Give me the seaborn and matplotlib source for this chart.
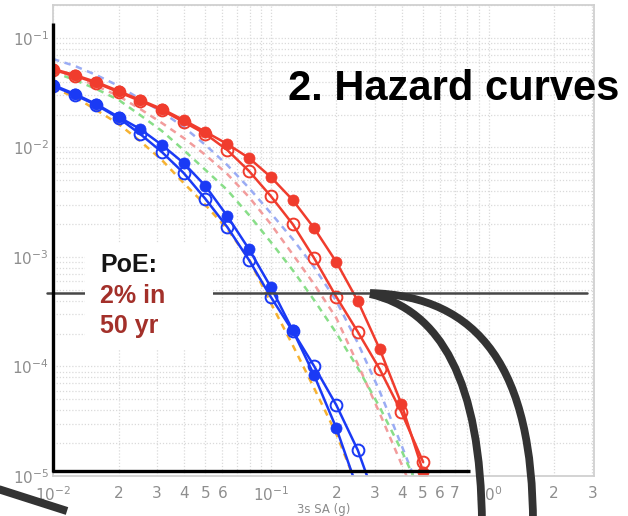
import matplotlib
matplotlib.use("Agg")
import matplotlib.pyplot as plt
import seaborn as sns
from matplotlib.path import Path
from matplotlib.patches import PathPatch, Rectangle
from matplotlib.lines import Line2D
from matplotlib.ticker import FixedLocator, FuncFormatter

# ---------------- data ----------------
sa_g = [0.01, 0.0126, 0.0158, 0.02, 0.0251, 0.0316, 0.0398, 0.0501, 0.0631,
        0.0794, 0.1, 0.126, 0.158, 0.2, 0.251, 0.316, 0.398, 0.501]

red_filled = [0.0521, 0.0459, 0.0396, 0.0328, 0.0272, 0.0225, 0.0178, 0.0139,
              0.01077, 0.00802, 0.00538, 0.00332, 0.00184, 9.0e-4, 3.96e-4,
              1.45e-4, 4.55e-5, 1.09e-5]
red_open = [0.0511, 0.0450, 0.0388, 0.0321, 0.0266, 0.0220, 0.0171, 0.0133,
            0.00948, 0.00610, 0.00360, 0.00200, 9.8e-4, 4.32e-4, 2.07e-4,
            9.5e-5, 3.83e-5, 1.34e-5]
blue_filled = [0.0372, 0.0308, 0.0249, 0.0190, 0.01476, 0.01055, 0.00721,
               0.00445, 0.00237, 0.00118, 5.32e-4, 2.15e-4, 8.35e-5, 2.74e-5,
               7.45e-6]
blue_open = [0.0365, 0.0301, 0.0244, 0.0186, 0.0133, 0.00910, 0.00585, 0.00339,
             0.00188, 9.4e-4, 4.32e-4, 2.11e-4, 1.01e-4, 4.44e-5, 1.72e-5, 4.8e-6]

dash_orange = [0.0349, 0.0289, 0.0220, 0.0164, 0.01145, 0.00769, 0.00474,
               0.00299, 0.00180, 9.6e-4, 3.80e-4, 1.57e-4, 6.37e-5, 2.42e-5, 7.8e-6]
dash_green = [0.0489, 0.0413, 0.0342, 0.0272, 0.0198, 0.01416, 0.00948, 0.00624,
              0.00409, 0.00242, 0.00137, 7.6e-4, 4.05e-4, 2.02e-4, 9.7e-5,
              4.27e-5, 1.72e-5, 6.3e-6]
dash_pink = [0.0511, 0.0441, 0.0365, 0.0295, 0.0225, 0.01675, 0.01222, 0.00855,
             0.00573, 0.00353, 0.00200, 0.00106, 5.66e-4, 2.77e-4, 1.05e-4,
             3.76e-5, 1.29e-5, 4.4e-6]
dash_lightblue = [0.0643, 0.0555, 0.0459, 0.0365, 0.0277, 0.0211, 0.01538,
                  0.01055, 0.00692, 0.00427, 0.00252, 0.00146, 8.1e-4, 3.96e-4,
                  1.64e-4, 5.97e-5, 1.92e-5, 6.0e-6]

x_major = [0.01, 0.1, 1.0]
x_major_labels = [r"$10^{-2}$", r"$10^{-1}$", r"$10^{0}$"]
x_minor = [0.02, 0.03, 0.04, 0.05, 0.06, 0.07, 0.08, 0.09,
           0.2, 0.3, 0.4, 0.5, 0.6, 0.7, 0.8, 0.9, 2.0, 3.0]
x_minor_labels = {0.02: "2", 0.03: "3", 0.04: "4", 0.05: "5", 0.06: "6",
                  0.2: "2", 0.3: "3", 0.4: "4", 0.5: "5", 0.6: "6", 0.7: "7",
                  2.0: "2", 3.0: "3"}
y_major = [1e-5, 1e-4, 1e-3, 1e-2, 1e-1]
y_major_labels = [r"$10^{-5}$", r"$10^{-4}$", r"$10^{-3}$", r"$10^{-2}$", r"$10^{-1}$"]
y_minor = [m * d for d in (1e-5, 1e-4, 1e-3, 1e-2, 1e-1) for m in range(2, 10)]

title_text = "2. Hazard curves"
poe_lines = ["PoE:", "2% in", "50 yr"]
x_label = "3s SA (g)"

# ---------------- style ----------------
sns.set_theme(style="white")
plt.rcParams['font.family'] = ['DejaVu Sans']

W, H = 628, 516
fig = plt.figure(figsize=(W / 100, H / 100), dpi=100)
fig.patch.set_facecolor("white")
ax = fig.add_axes([53 / W, 1 - 476 / H, (594 - 53) / W, (476 - 5) / H])

RED = "#f03c2d"
BLUE = "#1a3af5"

common = dict(ax=ax, legend=False, sort=False, estimator=None)

for vals, col in [(dash_lightblue, "#9aacf4"), (dash_pink, "#f29c9c"),
                  (dash_green, "#88de88"), (dash_orange, "#f6b232")]:
    sns.lineplot(x=sa_g[:len(vals)], y=vals, color=col, lw=1.8,
                 linestyle=(0, (2.6, 2.2)), **common)

for vals, col, filled in [(red_open, RED, False), (red_filled, RED, True),
                          (blue_open, BLUE, False), (blue_filled, BLUE, True)]:
    if filled:
        sns.lineplot(x=sa_g[:len(vals)], y=vals, color=col, lw=1.8, marker="o",
                     markersize=8, markerfacecolor=col, markeredgecolor=col,
                     markeredgewidth=0.5, **common)
    else:
        sns.lineplot(x=sa_g[:len(vals)], y=vals, color=col, lw=1.8, marker="o",
                     markersize=8.5, markerfacecolor="none", markeredgecolor=col,
                     markeredgewidth=1.4, **common)

ax.set_xscale("log")
ax.set_yscale("log")
ax.set_xlim(0.01, 3.05)
ax.set_ylim(1e-5, 0.2)

ax.xaxis.set_major_locator(FixedLocator(x_major))
ax.xaxis.set_minor_locator(FixedLocator(x_minor))
ax.xaxis.set_major_formatter(FuncFormatter(lambda v, p: x_major_labels[p] if p is not None and p < len(x_major_labels) else ""))
ax.xaxis.set_minor_formatter(FuncFormatter(lambda v, p: next((s for k, s in x_minor_labels.items() if abs(k - v) / k < 1e-6), "")))
ax.yaxis.set_major_locator(FixedLocator(y_major))
ax.yaxis.set_minor_locator(FixedLocator(y_minor))
ax.yaxis.set_major_formatter(FuncFormatter(lambda v, p: y_major_labels[p] if p is not None and p < len(y_major_labels) else ""))
ax.yaxis.set_minor_formatter(FuncFormatter(lambda v, p: ""))

ax.tick_params(which="both", length=0, labelsize=11, labelcolor="#8e8e8e")
ax.tick_params(axis="x", which="both", pad=7)
ax.tick_params(axis="y", which="both", pad=3)

ax.grid(True, which="both", color="#dadada", linestyle=(0, (1, 1.5)), lw=0.9)
ax.set_axisbelow(True)
for s in ax.spines.values():
    s.set_color("#d0d0d0")
    s.set_linewidth(1.3)

ax.set_xlabel(x_label, fontsize=8.5, color="#8a8a8a")
ax.xaxis.set_label_coords(0.5, (476 - 503) / 471)
ax.set_ylabel("")


# ---------------- slide overlays (figure pixel coords) ----------------
def fx(x):
    return x / W


def fy(y):
    return 1 - y / H


def seg(x1, y1, x2, y2, **kw):
    fig.add_artist(Line2D([fx(x1), fx(x2)], [fy(y1), fy(y2)],
                          transform=fig.transFigure, **kw))


# PoE horizontal line
seg(47, 293, 587, 293, color="#474747", lw=1.8, zorder=4)
# black L frame
seg(53, 23, 53, 472, color="black", lw=2.4, zorder=4, solid_capstyle="butt")
seg(52, 471, 470, 471, color="black", lw=2.4, zorder=4, solid_capstyle="butt")
# white label box
fig.add_artist(Rectangle((fx(85), fy(350)), (213 - 85) / W, (350 - 243) / H,
                         transform=fig.transFigure, facecolor="white",
                         edgecolor="none", zorder=5))
# PoE text
fig.text(fx(100), fy(272), poe_lines[0], fontsize=18, fontweight="bold",
         family=["Liberation Sans", "DejaVu Sans"], color="#151515",
         va="baseline", ha="left", zorder=6)
for txt, yb in zip(poe_lines[1:], (303, 333)):
    fig.text(fx(100), fy(yb), txt, fontsize=18, fontweight="bold",
             family=["Liberation Sans", "DejaVu Sans"], color="#a3302a",
             va="baseline", ha="left", zorder=6)
# title
fig.text(fx(288), fy(100), title_text, fontsize=30, fontweight="bold",
         family=["Liberation Sans", "DejaVu Sans"], color="black",
         va="baseline", ha="left", zorder=6)


def arc(pts, lw):
    verts = [(fx(x), fy(y)) for x, y in pts]
    path = Path(verts, [Path.MOVETO, Path.CURVE4, Path.CURVE4, Path.CURVE4])
    fig.add_artist(PathPatch(path, transform=fig.transFigure, facecolor="none",
                             edgecolor="#333333", lw=lw, zorder=6,
                             capstyle="butt"))


arc([(370, 293), (480, 296), (533, 370), (533, 525)], 5.6)
arc([(370, 294), (440, 310), (481, 380), (482, 525)], 5.6)
seg(-5, 488, 67, 511, color="#333333", lw=5.8, zorder=6, solid_capstyle="butt")

fig.savefig("out.png", dpi=100)
